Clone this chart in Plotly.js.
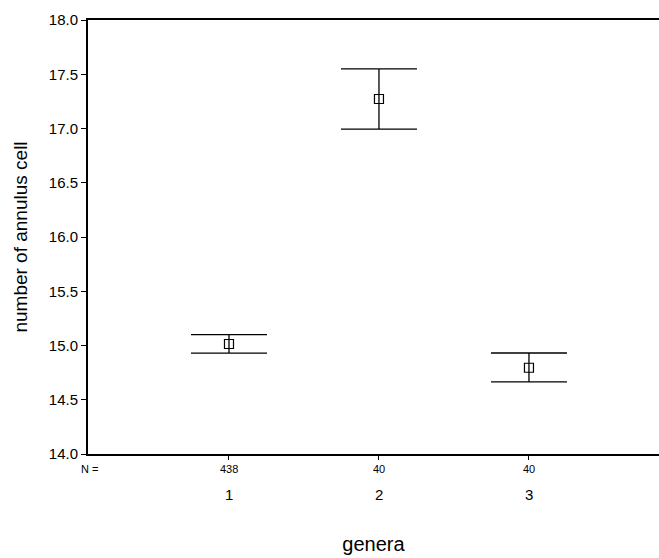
<!DOCTYPE html>
<html><head><meta charset="utf-8">
<script src="https://cdn.plot.ly/plotly-3.0.1.min.js"></script>
<style>html,body{margin:0;padding:0;background:#fff}</style>
</head><body>
<div id="chart" style="width:659px;height:558px"></div>
<script>
const genera = [1, 2, 3];
const genusLabels = ["1", "2", "3"];
const nCounts = ["438", "40", "40"];
const means = [15.014, 17.272, 14.795];
const errUpper = [0.086, 0.277, 0.136];
const errLower = [0.085, 0.277, 0.131];

const font = "Liberation Sans, Arial, sans-serif";

const trace = {
  type: "scatter", mode: "markers",
  x: genera, y: means,
  marker: {symbol: "square-open", size: 9, color: "#000", line: {width: 1.2, color: "#000"}},
  error_y: {type: "data", symmetric: false, array: errUpper, arrayminus: errLower,
            color: "#000", thickness: 1.3, width: 38},
  hoverinfo: "skip"
};

const annotations = [];
genera.forEach((g, i) => {
  annotations.push({x: g, y: 0, xref: "x", yref: "paper", yshift: -15, text: nCounts[i],
    showarrow: false, font: {family: font, size: 11, color: "#000"}, yanchor: "middle"});
  annotations.push({x: g, y: 0, xref: "x", yref: "paper", yshift: -40, text: genusLabels[i],
    showarrow: false, font: {family: font, size: 15, color: "#000"}, yanchor: "middle"});
});
annotations.push({x: 0, y: 0, xref: "paper", yref: "paper", xshift: 1, yshift: -15, text: "N =",
  showarrow: false, font: {family: font, size: 11, color: "#000"}, yanchor: "middle", xanchor: "center"});

const layout = {
  width: 659, height: 558,
  margin: {l: 88, r: 0, t: 20, b: 104},
  paper_bgcolor: "#fff", plot_bgcolor: "#fff",
  showlegend: false,
  font: {family: font, color: "#000"},
  xaxis: {
    range: [0.06, 3.867], tickvals: genera, ticktext: ["", "", ""],
    showgrid: false, zeroline: false, showline: true, mirror: true,
    linecolor: "#000", linewidth: 2, ticks: "outside", ticklen: 4, tickcolor: "#000",
    title: {text: "genera", font: {family: font, size: 20, color: "#000"}, standoff: 76},
    automargin: false
  },
  yaxis: {
    range: [14.0, 18.0], tickvals: [14, 14.5, 15, 15.5, 16, 16.5, 17, 17.5, 18],
    tickformat: ".1f",
    showgrid: false, zeroline: false, showline: true, mirror: false,
    linecolor: "#000", linewidth: 2, ticks: "outside", ticklen: 5, tickcolor: "#000",
    tickfont: {family: font, size: 15, color: "#000"},
    title: {text: "number of annulus cell", font: {family: font, size: 19, color: "#000"}, standoff: 16},
    automargin: false
  },
  annotations: annotations
};

Plotly.newPlot("chart", [trace], layout, {displayModeBar: false, staticPlot: true});
</script>
</body></html>
